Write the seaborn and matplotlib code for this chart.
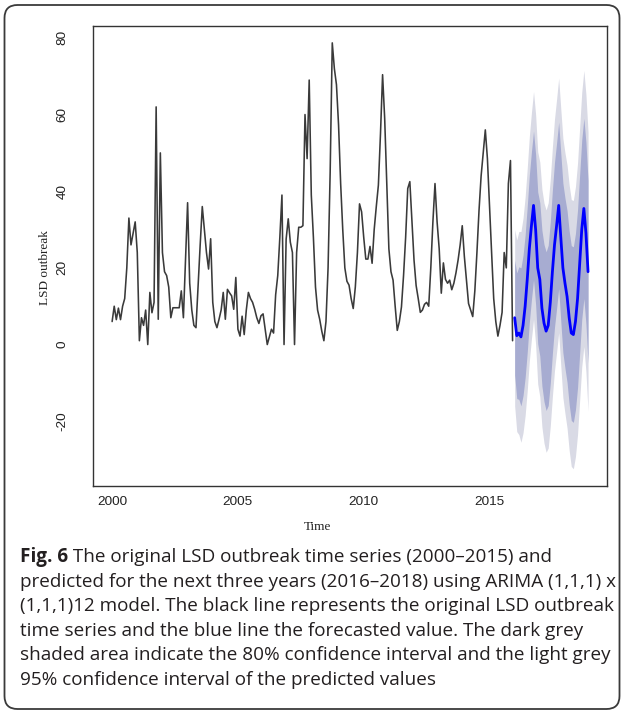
import matplotlib
matplotlib.use("Agg")
import matplotlib.pyplot as plt
import numpy as np
import pandas as pd
import seaborn as sns
from matplotlib.patches import FancyBboxPatch

# ---------------- data ----------------
start_year = 2000
obs_2000 = [6, 10, 6.5, 9.5, 6.5, 10, 12, 20, 33, 26, 29, 32]
obs_2001 = [24, 1, 7, 5, 9, 0, 13.6, 8.3, 11, 62, 6.6, 50]
obs_2002 = [24, 19, 18, 15, 7, 9.6, 9.6, 9.6, 9.6, 14, 7, 22]
obs_2003 = [37, 16, 9, 5, 4.4, 15.4, 26, 36, 30, 24, 19.7, 27.6]
obs_2004 = [11, 6, 4.4, 6.6, 9, 13.6, 6.6, 14.4, 13.5, 12.7, 9.2, 17.5]
obs_2005 = [4, 2.2, 7.4, 2.6, 9, 13.6, 12, 11, 9.2, 7, 5.5, 7.5]
obs_2006 = [8, 4, 0, 2, 4, 3, 13, 18, 28, 39, 0, 27.5]
obs_2007 = [32.8, 26.7, 24, 0, 24, 30.6, 30.6, 31, 60, 48.5, 69, 39]
obs_2008 = [28, 15, 9, 6.6, 3.5, 1, 6, 20, 45, 78.7, 72, 67.8]
obs_2009 = [57.3, 42, 30, 20, 16.5, 15.5, 12, 9.4, 15, 24, 36.7, 34.6]
obs_2010 = [28, 22.3, 22.3, 25.6, 21.2, 30, 36, 41.6, 55, 70.4, 59, 41.6]
obs_2011 = [25, 19, 16.8, 10, 3.7, 6, 9.8, 18, 28, 40.7, 42.5, 32]
obs_2012 = [22, 15.4, 12, 8.4, 9, 10.5, 11, 10, 20, 32, 42, 32]
obs_2013 = [25, 13.4, 21.3, 17, 16, 16.8, 14.3, 16, 18.7, 22, 26, 31]
obs_2014 = [23, 16.8, 10.7, 9, 7.3, 14, 24, 35, 44, 50, 56, 48.5]
obs_2015 = [36, 24, 12, 6, 2.2, 5, 8.4, 24, 20, 42, 48, 1]
observed = (obs_2000 + obs_2001 + obs_2002 + obs_2003 + obs_2004 + obs_2005 +
            obs_2006 + obs_2007 + obs_2008 + obs_2009 + obs_2010 + obs_2011 +
            obs_2012 + obs_2013 + obs_2014 + obs_2015)

fc_start_year = 2016
fc_mean = [7, 2.3, 3, 2, 5, 10, 17, 25, 31, 36.3, 30, 20,
           17, 9.5, 5.6, 3.5, 5, 11, 19, 26, 31, 36.3, 28, 20,
           16, 12.5, 7, 3, 2.6, 6, 12, 21, 30, 35.5, 29, 19]
fc_half80 = [15, 16.4, 17.3, 18, 18.3, 18.6, 19, 19.2, 19.3, 19.4, 19.6, 19.8,
             20, 20.3, 20.5, 20.7, 20.9, 21.1, 21.3, 21.5, 21.6, 21.7, 21.9, 22.1,
             22.2, 22.4, 22.6, 22.8, 22.9, 23, 23.2, 23.3, 23.4, 23.5, 23.7, 23.8]
fc_half95 = [23, 25, 26.5, 27.5, 28, 28.5, 29, 29.3, 29.5, 29.7, 30, 30.3,
             30.6, 31, 31.3, 31.6, 32, 32.2, 32.5, 32.8, 33, 33.2, 33.5, 33.8,
             34, 34.3, 34.6, 34.8, 35, 35.2, 35.4, 35.6, 35.8, 36, 36.2, 36.4]

x_ticks = [2000, 2005, 2010, 2015]
y_ticks = [-20, 0, 20, 40, 60, 80]
x_label = "Time"
y_label = "LSD outbreak"
caption_bold = "Fig. 6"
caption_first = " The original LSD outbreak time series (2000\u20132015) and"
caption_rest = [
    "predicted for the next three years (2016\u20132018) using ARIMA (1,1,1) x",
    "(1,1,1)12 model. The black line represents the original LSD outbreak",
    "time series and the blue line the forecasted value. The dark grey",
    "shaded area indicate the 80% confidence interval and the light grey",
    "95% confidence interval of the predicted values",
]

# ---------------- frames ----------------
hist = pd.DataFrame({"time": start_year + np.arange(len(observed)) / 12.0,
                     "value": observed})
fc = pd.DataFrame({"time": fc_start_year + np.arange(len(fc_mean)) / 12.0,
                   "mean": fc_mean})
fc["lo80"] = fc["mean"] - np.array(fc_half80)
fc["hi80"] = fc["mean"] + np.array(fc_half80)
fc["lo95"] = fc["mean"] - np.array(fc_half95)
fc["hi95"] = fc["mean"] + np.array(fc_half95)

# ---------------- figure ----------------
sns.set_style("white")
plt.rcParams["font.family"] = ["Liberation Sans", "DejaVu Sans"]

W, H = 625, 713
fig = plt.figure(figsize=(W / 100, H / 100), dpi=100)
fig.patch.set_facecolor("white")

# outer rounded border
border = FancyBboxPatch((0.045, 0.04), 6.15, 7.04,
                        boxstyle="round,pad=0,rounding_size=0.13",
                        transform=fig.dpi_scale_trans, fill=False,
                        edgecolor="#3a3a3a", linewidth=1.3)
fig.patches.append(border)

ax = fig.add_axes([93 / W, 1 - 486 / H, (607 - 93) / W, (486 - 26) / H])

ax.fill_between(fc["time"], fc["lo95"], fc["hi95"], color="#D9DAE5", lw=0)
ax.fill_between(fc["time"], fc["lo80"], fc["hi80"], color="#A7ACD1", lw=0)
sns.lineplot(data=hist, x="time", y="value", ax=ax, color="#3a3a3a", lw=1.15)
sns.lineplot(data=fc, x="time", y="mean", ax=ax, color="#0000FF", lw=2.0)

ax.set_xlim(1999.24, 2019.67)
ax.set_ylim(-36.9, 83.1)
ax.set_xticks(x_ticks)
ax.set_yticks(y_ticks)
ax.set_xticklabels([str(t) for t in x_ticks])
ax.set_yticklabels([str(t) for t in y_ticks])
ax.set_xlabel("")
ax.set_ylabel("")
for s in ax.spines.values():
    s.set_visible(True)
    s.set_color("#333333")
    s.set_linewidth(1.0)
ax.tick_params(axis="both", direction="out", length=5.5, width=0.9,
               colors="#333333", labelsize=9.7, labelcolor="#222222")
ax.tick_params(axis="x", pad=2)
ax.tick_params(axis="y", pad=12, labelrotation=90)
for lab in ax.get_yticklabels():
    lab.set_va("center")

fig.text(318 / W, 1 - 527 / H, x_label, family=["Liberation Serif", "DejaVu Serif"],
         fontsize=9.5, ha="center", va="center", color="#222222")
fig.text(45 / W, 1 - 268 / H, y_label, family=["Liberation Serif", "DejaVu Serif"],
         fontsize=9.5, ha="center", va="center", rotation=90, color="#222222")

# ---------------- caption ----------------
cap_family = ["Open Sans", "DejaVu Sans"]
cap_color = "#231f20"
renderer = fig.canvas.get_renderer()
probe = fig.text(0, 0, caption_rest[0], family=cap_family, fontsize=12)
w12 = probe.get_window_extent(renderer).width
probe.remove()
cap_size = 12 * 594.0 / w12

left = 20 / W
line_y = [557, 582, 606, 631, 655, 680]
t_bold = fig.text(left, 1 - line_y[0] / H, caption_bold, family=cap_family,
                  fontsize=cap_size, fontweight="bold", ha="left", va="center",
                  color=cap_color)
bw = t_bold.get_window_extent(renderer).width
fig.text(left + bw / W, 1 - line_y[0] / H, caption_first, family=cap_family,
         fontsize=cap_size, ha="left", va="center", color=cap_color)
for yy, line in zip(line_y[1:], caption_rest):
    fig.text(left, 1 - yy / H, line, family=cap_family, fontsize=cap_size,
             ha="left", va="center", color=cap_color)

fig.savefig("out.png", dpi=100, facecolor="white")
